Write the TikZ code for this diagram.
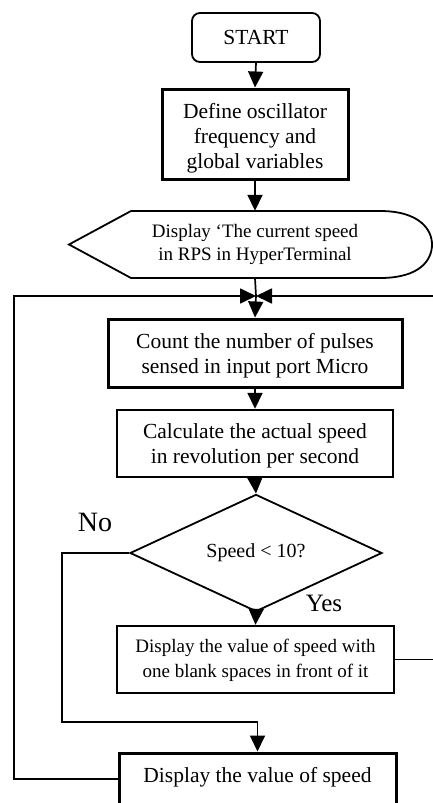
\documentclass[tikz,border=0pt]{standalone}
\usepackage{fontspec}
\setmainfont{Liberation Serif}
\usetikzlibrary{shapes.geometric,arrows.meta}
\tikzset{
  every picture/.style={x=1pt,y=-1pt},
  conn/.style={line width=1.7pt},
  arr/.style={conn,-{Triangle[length=16pt,width=15pt]}},
  procbox/.style={draw,line width=2.4pt,inner sep=0pt},
  heavybox/.style={procbox,line width=3pt},
  boxtext/.style={align=center,inner sep=0pt,font=\fontsize{21.5}{25}\selectfont},
  lbl/.style={inner sep=0pt}
}
\begin{document}
\begin{tikzpicture}
\useasboundingbox (0,0) rectangle (433,803);
\clip (0,0) rectangle (433,803);

% start terminal
\node[draw,line width=1.8pt,rounded corners=8pt,minimum width=128pt,minimum height=49pt,
      inner sep=0pt,font=\fontsize{21.5}{25}\selectfont] (start) at (256,37.5) {START};

% initialisation
\node[heavybox,minimum width=186pt,minimum height=90pt] (init) at (255,134) {};
\node[boxtext] (initT) at ([yshift=-4pt]init.center)
  {Define oscillator\\frequency and\\global variables};

% display shape (pointed left end, rounded right end)
\node[inner sep=0pt,minimum width=300pt,minimum height=67pt,align=center,
      font=\fontsize{19}{23}\selectfont] (disp) at (255,244.5)
  {Display `The current speed\\in RPS in HyperTerminal};
\draw[line width=1.8pt] (131,211) -- (380,211)
  .. controls (420,211) and (432,230) .. (432,244.5)
  .. controls (432,260) and (420,278) .. (380,278)
  -- (131,278) -- (69,244.5) -- cycle;

% loop junction
\coordinate (J) at (256,296);
\coordinate (loopL) at (14,296);
\coordinate (loopLB) at (14,779);
\coordinate (loopR) at (445,296);
\coordinate (loopRB) at (445,659.5);

% measurement
\node[heavybox,minimum width=294pt,minimum height=68pt] (count) at (255,353) {};
\node[boxtext] (countT) at ([yshift=-3pt]count.center)
  {Count the number of pulses\\sensed in input port Micro};
\node[procbox,minimum width=276pt,minimum height=67pt] (calc) at (255,443.5) {};
\node[boxtext] (calcT) at ([yshift=-2.5pt]calc.center)
  {Calculate the actual speed\\in revolution per second};

% decision
\node[draw,diamond,line width=1.8pt,minimum width=252pt,minimum height=89pt,inner sep=0pt,
      font=\fontsize{20}{24}\selectfont] (dec) at (256,553) {Speed < 10?};

% outputs
\node[procbox,minimum width=277pt,minimum height=67pt] (pad) at (255.5,659.5) {};
\node[boxtext,font=\fontsize{19}{25}\selectfont] (padT) at ([yshift=-1pt]pad.center)
  {Display the value of speed with\\one blank spaces in front of it};
\node[heavybox,minimum width=277pt,minimum height=52pt] (show) at (257.5,779) {};
\node[boxtext] (showT) at ([yshift=2pt]show.center) {Display the value of speed};

% labels
\node[lbl,font=\fontsize{28}{30}\selectfont] (nolbl) at (95,522) {No};
\node[lbl,font=\fontsize{25}{28}\selectfont] (yeslbl) at (324,603) {Yes};

% connectors
\draw[arr] (start.south) -- (init.north);
\draw[arr] (init.south) -- (disp.north);
\draw[conn] (disp.south) -- (J);
\draw[arr] (J) -- (count.north);
\draw[arr] (count.south) -- (calc.north);
\draw[arr] (calc.south) -- (dec.north);
\draw[arr] (dec.south) -- (pad.north);
\coordinate (noB) at (62,722);
\draw[arr] (dec.west) -| (noB) -| (show.north);
\draw[arr] (show.west) -- (loopLB) -- (loopL) -- (J);
\draw[arr] (pad.east) -- (loopRB) -- (loopR) -- (J);
\end{tikzpicture}
\end{document}
